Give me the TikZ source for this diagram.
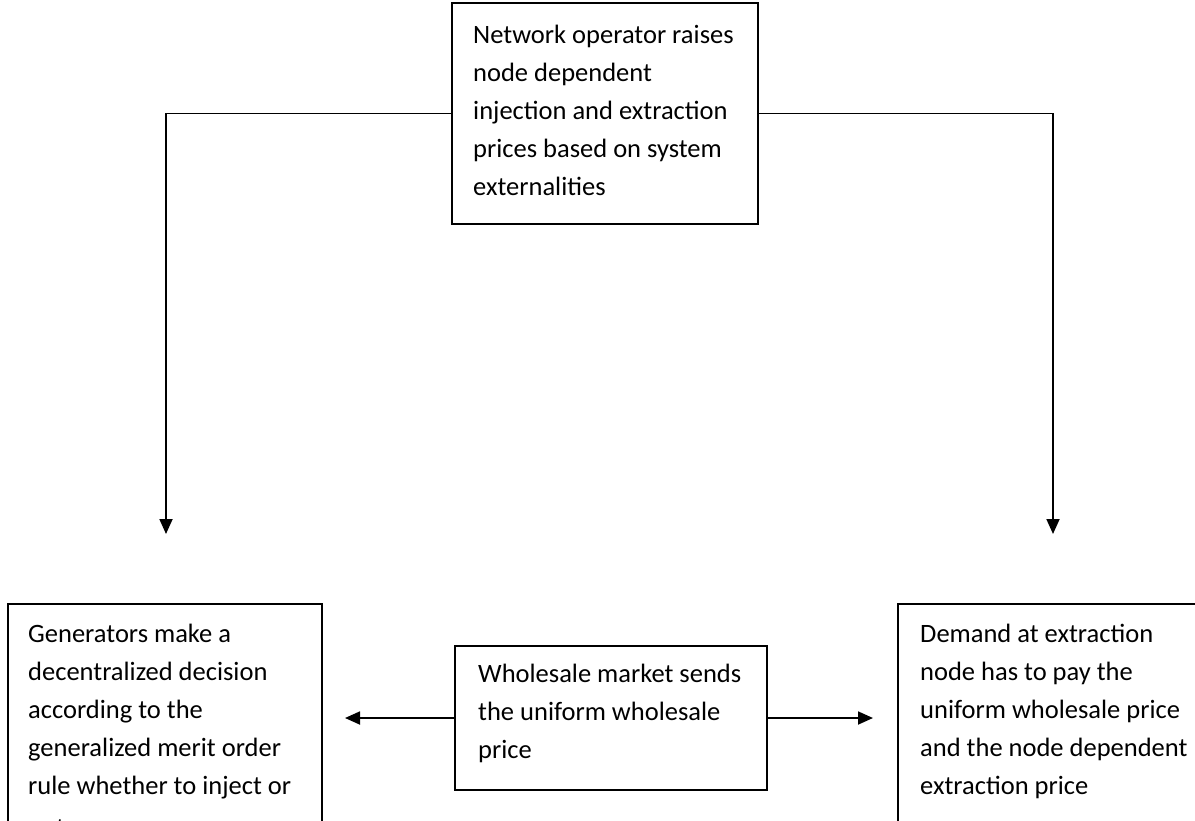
\documentclass[tikz,border=0pt]{standalone}
\usepackage{fontspec}
\setmainfont{Carlito}
\usetikzlibrary{arrows.meta}
\begin{document}
\begin{tikzpicture}[x=1pt,y=-1pt,
  box/.style={draw, line width=1.8pt, rectangle, inner sep=0pt, outer sep=0pt, anchor=north west},
  txt/.style={anchor=north west, inner sep=0pt, align=left, font=\fontsize{26.5}{38}\selectfont},
  arr/.style={line width=1.8pt, -{Triangle[length=15pt,width=13pt]}}]
\useasboundingbox (0,0) rectangle (1195,820);
\clip (0,0) rectangle (1195,820);

% boxes
\node[box, minimum width=306pt, minimum height=221pt] (op) at (452,3) {};
\node[box, minimum width=314pt, minimum height=260pt] (gen) at (8,604) {};
\node[box, minimum width=312pt, minimum height=144pt] (ws) at (455,646) {};
\node[box, minimum width=320pt, minimum height=260pt] (dem) at (898,604) {};

% box texts (top of node = first baseline - 0.7 baselineskip)
\node[txt] (optxt) at (473,16.4) {\strut Network operator raises\\node dependent\\injection and extraction\\prices based on system\\externalities};
\node[txt] (gentxt) at (28,615.4) {\strut Generators make a\\decentralized decision\\according to the\\generalized merit order\\rule whether to inject or\\[4pt]not};
\node[txt] (wstxt) at (478,655.4) {\strut Wholesale market sends\\the uniform wholesale\\price};
\node[txt] (demtxt) at (920,615.4) {\strut Demand at extraction\\node has to pay the\\uniform wholesale price\\and the node dependent\\extraction price};

% free ends of the connectors
\coordinate (genin) at (166,534);
\coordinate (demin) at (1053,534);
\coordinate (genside) at (345,718);
\coordinate (demside) at (873,718);

% connectors
\draw[arr] (op.west) -| (genin);
\draw[arr] (op.east) -| (demin);
\draw[arr] (ws.west) -- (genside);
\draw[arr] (ws.east) -- (demside);
\end{tikzpicture}
\end{document}
